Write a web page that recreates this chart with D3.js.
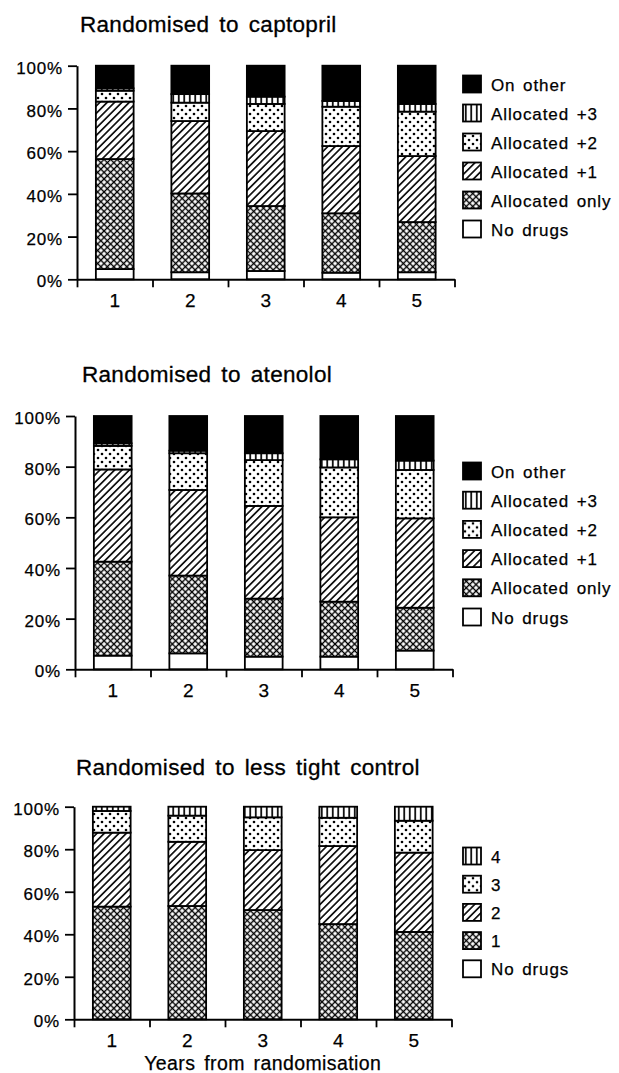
<!DOCTYPE html>
<html>
<head>
<meta charset="utf-8">
<script src="https://cdn.jsdelivr.net/npm/d3@7"></script>
<style>
  body { margin: 0; background: #fff; }
  svg { display: block; font-family: "Liberation Sans", Arial, Helvetica, sans-serif; }
</style>
</head>
<body>
<svg id="chart" width="619" height="1073"></svg>
<script>
// ---------------- DATA ----------------
const years = ["1", "2", "3", "4", "5"];
const yTicks = [0, 20, 40, 60, 80, 100];

// Panel 1: Randomised to captopril (percent of patients per segment, bottom to top)
const captoprilNoDrugs   = [4.8, 3.3, 3.9, 3.1, 3.3];
const captoprilAllocOnly = [51.5, 36.9, 30.4, 27.8, 23.5];
const captoprilPlus1     = [26.9, 33.9, 35.1, 31.5, 30.9];
const captoprilPlus2     = [5.1, 8.6, 12.7, 18.4, 20.8];
const captoprilPlus3     = [1.1, 4.0, 3.4, 2.7, 3.6];
const captoprilOther     = [10.6, 13.3, 14.5, 16.5, 17.9];

// Panel 2: Randomised to atenolol
const atenololNoDrugs   = [5.4, 6.3, 5.0, 5.0, 7.4];
const atenololAllocOnly = [37.1, 30.7, 22.9, 21.7, 16.9];
const atenololPlus1     = [36.4, 33.8, 36.6, 33.3, 35.3];
const atenololPlus2     = [9.3, 14.5, 18.1, 19.7, 19.1];
const atenololPlus3     = [1.0, 1.0, 2.7, 3.2, 3.7];
const atenololOther     = [10.8, 13.7, 14.7, 17.1, 17.6];

// Panel 3: Randomised to less tight control (number of drugs)
const lessNoDrugs = [0, 0, 0, 0, 0];
const lessDrugs1  = [53.0, 53.3, 51.4, 44.8, 41.1];
const lessDrugs2  = [34.8, 30.2, 28.2, 36.7, 37.3];
const lessDrugs3  = [10.2, 12.3, 15.4, 13.3, 15.0];
const lessDrugs4  = [2.0, 4.2, 5.0, 5.2, 6.6];

const legendTight = ["No drugs", "Allocated only", "Allocated +1", "Allocated +2", "Allocated +3", "On other"];
const legendLess  = ["No drugs", "1", "2", "3", "4"];
const titles = ["Randomised to captopril", "Randomised to atenolol", "Randomised to less tight control"];
const xAxisTitle = "Years from randomisation";

// ---------------- PATTERNS ----------------
const svg = d3.select("#chart");
const defs = svg.append("defs");

function pat(id, w, h, rot) {
  const p = defs.append("pattern").attr("id", id)
    .attr("patternUnits", "userSpaceOnUse").attr("width", w).attr("height", h);
  if (rot) p.attr("patternTransform", "rotate(" + rot + ")");
  p.append("rect").attr("width", w).attr("height", h).attr("fill", "#fff");
  return p;
}
// cross hatch
let p = pat("p-cross", 4.6, 4.6, 45);
p.append("path").attr("d", "M2.3,0V4.6M0,2.3H4.6").attr("stroke", "#000").attr("stroke-width", 1.4);
// diagonal
p = pat("p-diag", 5.2, 5.2, 45);
p.append("path").attr("d", "M2.6,0V5.2").attr("stroke", "#000").attr("stroke-width", 1.6);
// dots
p = pat("p-dots", 8, 8, 0);
p.append("circle").attr("cx", 2).attr("cy", 2).attr("r", 1.3).attr("fill", "#000");
p.append("circle").attr("cx", 6).attr("cy", 6).attr("r", 1.3).attr("fill", "#000");
// vertical
p = pat("p-vert", 5.5, 5.5, 0);
p.append("path").attr("d", "M2.75,0V5.5").attr("stroke", "#000").attr("stroke-width", 1.7);

const fillsTight = ["#fff", "url(#p-cross)", "url(#p-diag)", "url(#p-dots)", "url(#p-vert)", "#000"];
const fillsLess  = ["#fff", "url(#p-cross)", "url(#p-diag)", "url(#p-dots)", "url(#p-vert)"];

// ---------------- PANELS ----------------
const panels = [
  { title: titles[0], tx: 80, ty: 32, axisX: 77, y0: 279.3, y100: 65.7,
    series: [captoprilNoDrugs, captoprilAllocOnly, captoprilPlus1, captoprilPlus2, captoprilPlus3, captoprilOther],
    legend: legendTight, fills: fillsTight, legTop: 84, legStep: 29, xTitle: false },
  { title: titles[1], tx: 82, ty: 381.5, axisX: 75, y0: 669.3, y100: 416,
    series: [atenololNoDrugs, atenololAllocOnly, atenololPlus1, atenololPlus2, atenololPlus3, atenololOther],
    legend: legendTight, fills: fillsTight, legTop: 471, legStep: 29.2, xTitle: false },
  { title: titles[2], tx: 76, ty: 775, axisX: 74, y0: 1019.3, y100: 806.7,
    series: [lessNoDrugs, lessDrugs1, lessDrugs2, lessDrugs3, lessDrugs4],
    legend: legendLess, fills: fillsLess, legTop: 856, legStep: 28.2, xTitle: true }
];

const step = 75.5;

panels.forEach(P => {
  const g = svg.append("g");
  g.append("text").attr("x", P.tx).attr("y", P.ty)
    .attr("font-size", 22.5).attr("word-spacing", 3.5).attr("letter-spacing", 0.3)
    .attr("fill", "#000").attr("stroke", "#000").attr("stroke-width", 0.3).text(P.title);

  const xEnd = P.axisX + step * years.length;
  const x = d3.scaleBand().domain(years).range([P.axisX, xEnd]).paddingInner(0.5).paddingOuter(0.25);
  const xl = d3.scaleLinear().domain([0, years.length]).range([P.axisX, xEnd]);
  const y = d3.scaleLinear().domain([0, 100]).range([P.y0, P.y100]);

  // stacked data
  const rows = years.map((yr, i) => {
    const o = { year: yr };
    P.series.forEach((s, k) => { o["k" + k] = s[i]; });
    return o;
  });
  const keys = P.series.map((s, k) => "k" + k);
  const stack = d3.stack().keys(keys)(rows);

  const layers = g.append("g").selectAll("g").data(stack).join("g")
    .attr("fill", (d, i) => P.fills[i]);
  layers.selectAll("rect").data(d => d.filter(v => v[1] - v[0] > 0.001)).join("rect")
    .attr("x", d => x(d.data.year))
    .attr("width", x.bandwidth())
    .attr("y", d => y(d[1]))
    .attr("height", d => y(d[0]) - y(d[1]))
    .attr("stroke", "#000").attr("stroke-width", 1.8);

  // y axis
  const ya = g.append("g").attr("transform", `translate(${P.axisX},0)`)
    .call(d3.axisLeft(y).tickValues(yTicks).tickFormat(d => d + "%").tickSize(9).tickSizeOuter(0).tickPadding(5));
  ya.select(".domain").attr("stroke-width", 2);
  ya.selectAll(".tick line").attr("stroke-width", 1.8);
  ya.selectAll("text").attr("font-size", 17).attr("letter-spacing", 0.8).attr("fill", "#000")
    .attr("stroke", "#000").attr("stroke-width", 0.25)
    .attr("font-family", "Liberation Sans, Arial, sans-serif").attr("dy", "0.45em");

  // x axis: tick marks at band boundaries
  const xa = g.append("g").attr("transform", `translate(0,${P.y0})`)
    .call(d3.axisBottom(xl).tickValues(d3.range(years.length + 1)).tickFormat("").tickSize(8).tickSizeOuter(0));
  xa.select(".domain").attr("stroke-width", 2);
  xa.selectAll(".tick line").attr("stroke-width", 1.8);
  // x labels at band centers
  const xb = g.append("g").attr("transform", `translate(0,${P.y0})`)
    .call(d3.axisBottom(x).tickSize(0).tickPadding(14));
  xb.select(".domain").remove();
  xb.selectAll("text").attr("font-size", 19).attr("fill", "#000")
    .attr("stroke", "#000").attr("stroke-width", 0.25)
    .attr("font-family", "Liberation Sans, Arial, sans-serif");

  if (P.xTitle) {
    g.append("text").attr("x", (P.axisX + xEnd) / 2).attr("y", 1070)
      .attr("text-anchor", "middle").attr("font-size", 19.5).attr("word-spacing", 3).attr("letter-spacing", 0.4)
      .attr("stroke", "#000").attr("stroke-width", 0.25)
      .text(xAxisTitle);
  }

  // legend (top entry first)
  const legItems = P.legend.map((name, i) => ({ name, fill: P.fills[i] })).reverse();
  const lg = g.append("g").selectAll("g").data(legItems).join("g")
    .attr("transform", (d, i) => `translate(463,${P.legTop + i * P.legStep})`);
  lg.append("rect").attr("x", 0).attr("y", -8.5).attr("width", 18).attr("height", 17)
    .attr("fill", d => d.fill).attr("stroke", "#000").attr("stroke-width", 1.8);
  lg.append("text").attr("x", 28).attr("y", 6.5).attr("font-size", 17)
    .attr("letter-spacing", 0.9).attr("word-spacing", 2).attr("stroke", "#000").attr("stroke-width", 0.25)
    .text(d => d.name);
});
</script>
</body>
</html>
